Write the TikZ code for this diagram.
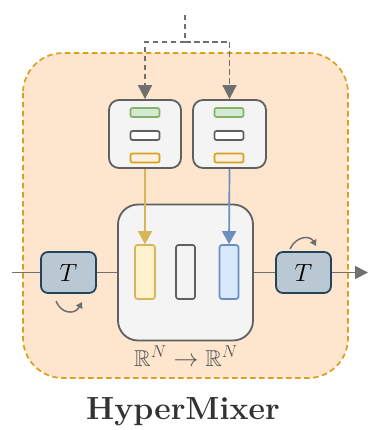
\documentclass[tikz,border=0pt]{standalone}
\usepackage{amssymb}
\usetikzlibrary{arrows.meta}
\definecolor{outerfill}{HTML}{FDE6CD}
\definecolor{outerdraw}{HTML}{DCA020}
\definecolor{boxfill}{HTML}{F4F4F4}
\definecolor{boxdraw}{HTML}{606060}
\definecolor{greenfill}{HTML}{D5E8D4}
\definecolor{greendraw}{HTML}{82B366}
\definecolor{orangedraw}{HTML}{D99F1A}
\definecolor{orangefill}{HTML}{FAF1E2}
\definecolor{yelfill}{HTML}{FFF2CC}
\definecolor{yeldraw}{HTML}{D6B656}
\definecolor{bluefill}{HTML}{DAE8FC}
\definecolor{bluedraw}{HTML}{6C8EBF}
\definecolor{tfill}{HTML}{BAC8D3}
\definecolor{tdraw}{HTML}{23445D}
\definecolor{linegray}{HTML}{707070}
\definecolor{textgray}{HTML}{555555}
\definecolor{titlegray}{HTML}{333333}
\tikzset{
  panel/.style={draw=boxdraw, fill=boxfill, line width=1.8pt, rounded corners=10pt, minimum width=72pt, minimum height=68pt, inner sep=0pt},
  bar/.style={line width=1.7pt, rounded corners=2pt, minimum width=29pt, minimum height=9pt, inner sep=0pt},
  vbar/.style={line width=1.7pt, rounded corners=2.5pt, minimum width=20pt, minimum height=54pt, inner sep=0pt},
  tbox/.style={draw=tdraw, fill=tfill, line width=1.8pt, rounded corners=7pt, minimum width=55pt, minimum height=41pt, inner sep=0pt, font=\fontsize{26}{26}\selectfont},
  gline/.style={draw=linegray, line width=1.7pt},
  gdash/.style={draw=linegray, line width=1.8pt, dash pattern=on 5.5pt off 3.5pt},
  bigtip/.style={-{Triangle[width=14pt,length=14pt,fill=linegray]}},
  smalltip/.style={-{Triangle[width=7pt,length=6pt]}},
}
\begin{document}
\begin{tikzpicture}[x=1pt,y=-1pt]
\useasboundingbox (0,0) rectangle (367,430);
% outer region
\draw[draw=outerdraw, fill=outerfill, line width=1.7pt, dash pattern=on 5.5pt off 3.5pt, rounded corners=40pt] (23,53) rectangle (348,378);
% top panels
\node[panel] (p1) at (145,134) {};
\node[panel, minimum width=73pt] (p2) at (229.5,134) {};
\node[bar, draw=greendraw, fill=greenfill] (g1) at (145,112.5) {};
\node[bar, draw=boxdraw, fill=white] (w1) at (145,135.5) {};
\node[bar, draw=orangedraw, fill=orangefill] (o1) at (145,158) {};
\node[bar, draw=greendraw, fill=greenfill] (g2) at (229,112.5) {};
\node[bar, draw=boxdraw, fill=white] (w2) at (229,135.5) {};
\node[bar, draw=orangedraw, fill=orangefill] (o2) at (229,158) {};
% middle box
\node[panel, rounded corners=20pt, minimum width=135pt, minimum height=136pt] (mid) at (185.5,272.5) {};
\node[vbar, draw=yeldraw, fill=yelfill] (yb) at (145,272) {};
\node[vbar, draw=boxdraw, fill=boxfill, minimum width=19pt] (gb) at (185.5,272) {};
\node[vbar, draw=bluedraw, fill=bluefill, minimum width=19pt] (bb) at (229,272) {};
% T boxes
\node[tbox] (t1) at (68.5,272.5) {$T$};
\node[tbox] (t2) at (303.5,272.5) {$T$};
% dashed input
\coordinate (src) at (185,15);
\coordinate (split) at (185,42);
\draw[gdash] (src) -- (split);
\draw[gdash, bigtip] (split) -| (p1.north);
\draw[gdash, bigtip] (split) -| (p2.north);
% generated weights
\draw[draw=yeldraw, line width=1.7pt, -{Triangle[width=14pt,length=13pt,fill=yeldraw]}] (p1.south) -- (yb.north);
\draw[draw=bluedraw, line width=1.7pt, -{Triangle[width=14pt,length=13pt,fill=bluedraw]}] (p2.south) -- (bb.north);
% main line
\coordinate (in) at (12,272.5);
\coordinate (out) at (368,272.5);
\draw[gline] (in) -- (t1.west);
\draw[gline] (t1.east) -- (mid.west);
\draw[gline] (mid.east) -- (t2.west);
\draw[gline, -{Triangle[width=13pt,length=13pt]}] (t2.east) -- (out);
% transpose curved arrows
\coordinate (c1a) at (56,301);
\coordinate (c1b) at (82,302);
\draw[draw=linegray, line width=1.5pt, smalltip] (c1a) .. controls (61,314) and (75,315) .. (c1b);
\coordinate (c2a) at (290,249);
\coordinate (c2b) at (316,246);
\draw[draw=linegray, line width=1.5pt, smalltip] (c2a) .. controls (296,236) and (310,235) .. (c2b);
% labels
\node[text=textgray, font=\fontsize{23}{23}\selectfont] (lab) at (186,356) {$\mathbb{R}^N \to \mathbb{R}^N$};
\node[text=titlegray, font=\fontsize{32}{32}\selectfont\bfseries] (title) at (183,412) {HyperMixer};
\end{tikzpicture}
\end{document}
